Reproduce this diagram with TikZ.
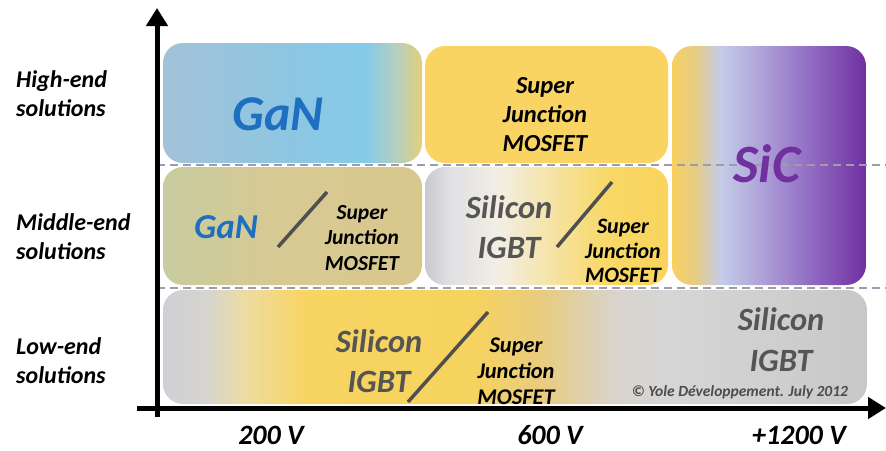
\documentclass[tikz,border=0pt]{standalone}
\usepackage{fontspec}
\setmainfont{Carlito}
\usetikzlibrary{arrows.meta}
\definecolor{ganblue}{HTML}{1F6FC0}
\definecolor{sicpurple}{HTML}{7030A0}
\definecolor{sigrey}{HTML}{555555}
\definecolor{dashgrey}{HTML}{9C9CAC}
\definecolor{sjyellow}{HTML}{FAD462}
\definecolor{slashgrey}{HTML}{4F4F4F}
\definecolor{ganA}{HTML}{A2C2D8}
\definecolor{ganB}{HTML}{8DC6E2}
\definecolor{ganC}{HTML}{84CBEA}
\definecolor{ganD}{HTML}{B4CFC0}
\definecolor{ganE}{HTML}{E2D078}
\pgfdeclarehorizontalshading{ganhigh}{100bp}{color(0bp)=(ganA); color(25bp)=(ganA); color(50bp)=(ganB); color(64bp)=(ganC); color(70bp)=(ganD); color(75bp)=(ganE); color(100bp)=(ganE)}
\definecolor{sicA}{HTML}{F8D060}
\definecolor{sicB}{HTML}{E6CC86}
\definecolor{sicC}{HTML}{C4CCE8}
\definecolor{sicD}{HTML}{B0A6DA}
\definecolor{sicE}{HTML}{8E66C0}
\definecolor{sicF}{HTML}{7030A0}
\pgfdeclarehorizontalshading{sicsh}{100bp}{color(0bp)=(sicA); color(25bp)=(sicA); color(31bp)=(sicB); color(37.5bp)=(sicC); color(47bp)=(sicD); color(62bp)=(sicE); color(75bp)=(sicF); color(100bp)=(sicF)}
\definecolor{mlA}{HTML}{C8CCA0}
\definecolor{mlB}{HTML}{D6C994}
\definecolor{mlC}{HTML}{D9C88C}
\pgfdeclarehorizontalshading{midleft}{100bp}{color(0bp)=(mlA); color(25bp)=(mlA); color(45bp)=(mlB); color(75bp)=(mlC); color(100bp)=(mlC)}
\definecolor{mcA}{HTML}{C8C8D0}
\definecolor{mcB}{HTML}{E0E0E4}
\definecolor{mcC}{HTML}{F2EEE4}
\definecolor{mcD}{HTML}{F6E2A0}
\definecolor{mcE}{HTML}{F8D868}
\definecolor{mcF}{HTML}{FAD45C}
\pgfdeclarehorizontalshading{midcenter}{100bp}{color(0bp)=(mcA); color(25bp)=(mcA); color(30bp)=(mcB); color(40bp)=(mcC); color(52bp)=(mcD); color(62bp)=(mcE); color(75bp)=(mcF); color(100bp)=(mcF)}
\definecolor{loA}{HTML}{D0D0D4}
\definecolor{loB}{HTML}{D6D4D0}
\definecolor{loC}{HTML}{EEDCA0}
\definecolor{loD}{HTML}{F8D462}
\definecolor{loE}{HTML}{F6D25E}
\definecolor{loF}{HTML}{E8CC80}
\definecolor{loG}{HTML}{D8D4CC}
\definecolor{loH}{HTML}{D6D6D6}
\definecolor{loI}{HTML}{C8C8C8}
\pgfdeclarehorizontalshading{lowsh}{100bp}{color(0bp)=(loA); color(25bp)=(loA); color(28bp)=(loB); color(31bp)=(loC); color(35bp)=(loD); color(47bp)=(loE); color(52bp)=(loF); color(57bp)=(loG); color(61bp)=(loH); color(75bp)=(loI); color(100bp)=(loI)}
\tikzset{
  regbox/.style={rounded corners=20pt},
  lbl/.style={font=\bfseries\itshape\fontsize{24}{29}\selectfont, align=left, anchor=west, inner sep=0pt},
  vlabel/.style={font=\bfseries\itshape\fontsize{28}{28}\selectfont, inner sep=0pt, anchor=base, text depth=0pt},
  sjtext/.style={font=\bfseries\itshape\fontsize{#1}{25.5}\selectfont, align=center, text=black, inner sep=0pt},
  sitext/.style={font=\bfseries\itshape\fontsize{32.5}{39.5}\selectfont, align=center, text=sigrey, inner sep=0pt},
  slash/.style={draw=slashgrey, line width=3.5pt},
  axis/.style={draw=black, line width=5pt, -{Triangle[length=18pt,width=21pt]}},
  divider/.style={draw=dashgrey, line width=1.5pt, dash pattern=on 8pt off 5pt}
}
\begin{document}
\begin{tikzpicture}[x=1pt,y=-1pt]
\useasboundingbox (0,0) rectangle (886,450);
% region boxes
\shade[regbox, shading=ganhigh] (163,43) rectangle (422,163);
\fill[regbox, sjyellow] (425,46) rectangle (668,163);
\shade[regbox, shading=sicsh] (672,46) rectangle (866,285);
\shade[regbox, shading=midleft] (163,167) rectangle (422,285);
\shade[regbox, shading=midcenter] (425,167) rectangle (668,285);
\shade[regbox, shading=lowsh] (163,290) rectangle (867,404);
% dividers
\coordinate (d1a) at (157,165);
\coordinate (d1b) at (886,165);
\coordinate (d2a) at (157,288);
\coordinate (d2b) at (886,288);
\draw[divider] (d1a) -- (d1b);
\draw[divider] (d2a) -- (d2b);
% axes
\coordinate (origin) at (157,417);
\coordinate (ytop) at (157,8);
\coordinate (xleft) at (137,408);
\coordinate (xright) at (886,408);
\draw[axis] (origin) -- (ytop);
\draw[axis] (xleft) -- (xright);
% left labels
\node[lbl] (high) at (16,94) {High-end\\solutions};
\node[lbl] (middle) at (16,237) {Middle-end\\solutions};
\node[lbl] (low) at (16,361) {Low-end\\solutions};
% axis labels
\node[vlabel] (v200) at (271,444) {200 V};
\node[vlabel] (v600) at (550,444) {600 V};
\node[vlabel] (v1200) at (799,444) {+1200 V};
% high-end
\node[font=\bfseries\itshape\fontsize{50}{50}\selectfont, text=ganblue, inner sep=0pt] (ganH) at (278,114) {GaN};
\node[sjtext=24.5, font=\bfseries\itshape\fontsize{24.5}{29}\selectfont] (sjH) at (545,115) {Super\\Junction\\MOSFET};
\node[font=\bfseries\itshape\fontsize{54}{54}\selectfont, text=sicpurple, inner sep=0pt] (sic) at (767,164) {SiC};
% middle-end left
\node[font=\bfseries\itshape\fontsize{35}{35}\selectfont, text=ganblue, inner sep=0pt] (ganM) at (226,227) {GaN};
\coordinate (s1a) at (278,247);
\coordinate (s1b) at (327,192);
\draw[slash] (s1a) -- (s1b);
\node[sjtext=21.5] (sjML) at (362,238) {Super\\Junction\\MOSFET};
% middle-end center
\node[sitext] (siM) at (509,227) {Silicon\\IGBT};
\coordinate (s2a) at (557,247);
\coordinate (s2b) at (612,182);
\draw[slash] (s2a) -- (s2b);
\node[sjtext=22, font=\bfseries\itshape\fontsize{22}{24.5}\selectfont] (sjMC) at (623,251) {Super\\Junction\\MOSFET};
% low-end
\node[sitext] (siL) at (379,361) {Silicon\\IGBT};
\coordinate (s3a) at (408,402);
\coordinate (s3b) at (488,312);
\draw[slash] (s3a) -- (s3b);
\node[sjtext=22.4, font=\bfseries\itshape\fontsize{22.4}{26}\selectfont] (sjL) at (516,371) {Super\\Junction\\MOSFET};
\node[sitext, font=\bfseries\itshape\fontsize{32.5}{41}\selectfont] (siR) at (781,340) {Silicon\\IGBT};
\node[font=\bfseries\itshape\fontsize{15.5}{17}\selectfont, text=black!70, inner sep=0pt] (copy) at (740,392) {© Yole Développement. July 2012};
\end{tikzpicture}
\end{document}
